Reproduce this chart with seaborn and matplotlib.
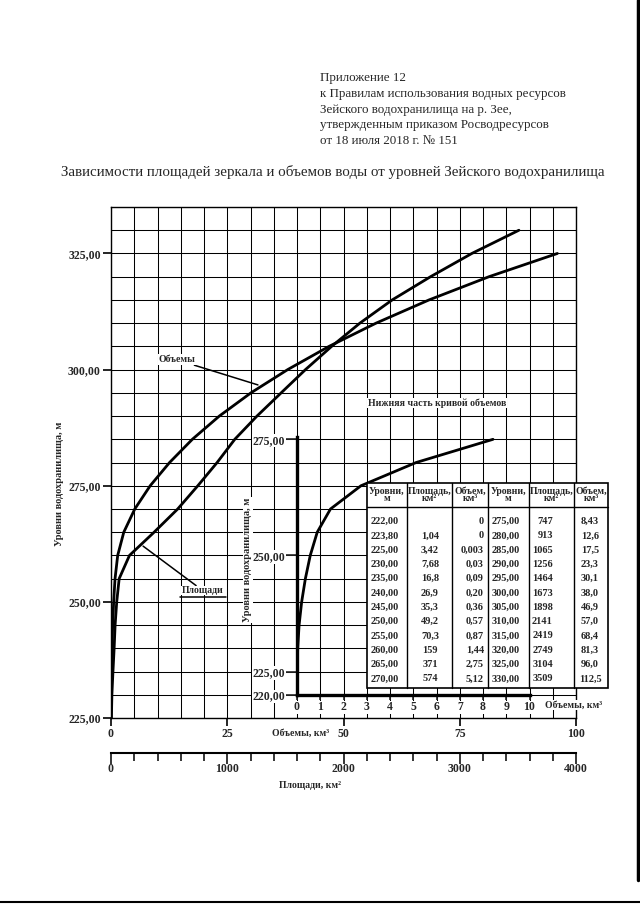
import numpy as np
import pandas as pd
import matplotlib
matplotlib.use('Agg')
import matplotlib.pyplot as plt
import seaborn as sns
from matplotlib.patches import Rectangle
from matplotlib.lines import Line2D

# таблица: уровни, площади зеркала, объемы
level_txt = ['222,00', '223,80', '225,00', '230,00', '235,00', '240,00', '245,00', '250,00',
             '255,00', '260,00', '265,00', '270,00', '275,00', '280,00', '285,00', '290,00',
             '295,00', '300,00', '305,00', '310,00', '315,00', '320,00', '325,00', '330,00']
area_txt = ['', '1,04', '3,42', '7,68', '16,8', '26,9', '35,3', '49,2', '70,3', '159', '371', '574',
            '747', '913', '1065', '1256', '1464', '1673', '1898', '2141', '2419', '2749', '3104', '3509']
vol_txt = ['0', '0', '0,003', '0,03', '0,09', '0,20', '0,36', '0,57', '0,87', '1,44', '2,75', '5,12',
           '8,43', '12,6', '17,5', '23,3', '30,1', '38,0', '46,9', '57,0', '68,4', '81,3', '96,0', '112,5']

header_txt = ['Приложение 12',
              'к Правилам использования водных ресурсов',
              'Зейского водохранилища на р. Зее,',
              'утвержденным приказом Росводресурсов',
              'от 18 июля 2018 г. № 151']
title_txt = 'Зависимости площадей зеркала и объемов воды от уровней Зейского водохранилища'
table_head = ['Уровни,\nм', 'Площадь,\nкм²', 'Объем,\nкм³']

main_yticks = [225, 250, 275, 300, 325]
main_xticks = [0, 25, 50, 75, 100]
inset_yticks = [220, 225, 250, 275]
inset_xticks = list(range(0, 11))
area_ticks = [0, 1000, 2000, 3000, 4000]


def num(s):
    return float(s.replace(',', '.')) if s else np.nan


df = pd.DataFrame({'level': [num(s) for s in level_txt],
                   'area': [num(s) for s in area_txt],
                   'vol': [num(s) for s in vol_txt]})
df['area_scaled'] = df['area'] / 40.0

sns.set_theme(style='white')
plt.rcParams['font.family'] = ['Liberation Serif', 'DejaVu Serif']
plt.rcParams['axes.edgecolor'] = 'black'

W, H = 640, 905
PT = 72 / 100  # пикселей -> пунктов
fig = plt.figure(figsize=(W / 100, H / 100), dpi=100)
fig.patch.set_facecolor('white')


def fx(x):
    return x / W


def fy(y):
    return 1 - y / H


def ftext(x, y, s, **kw):
    return fig.text(fx(x), fy(y), s, **kw)


# шапка
for i, line in enumerate(header_txt):
    ftext(320, 78 + i * 15.8, line, fontsize=9.35, ha='left', va='center')
ftext(333, 172, title_txt, fontsize=10.8, ha='center', va='center')

# основной график
ax = fig.add_axes([fx(111), fy(718), 465 / W, 511 / H])
ax.set_xlim(0, 100)
ax.set_ylim(225, 335)

vol_main = df[df['level'] <= 325]
area_main = df.dropna(subset=['area'])
sns.lineplot(data=vol_main, x='vol', y='level', sort=False, estimator=None,
             color='black', lw=2.0, ax=ax)
sns.lineplot(data=area_main, x='area_scaled', y='level', sort=False, estimator=None,
             color='black', lw=2.0, ax=ax)
ax.set_xlabel('')
ax.set_ylabel('')

ax.set_xticks(main_xticks)
ax.set_xticklabels([str(t) for t in main_xticks])
ax.set_xticks(np.arange(0, 101, 5), minor=True)
ax.set_yticks(main_yticks)
ax.set_yticklabels([f'{t},00' for t in main_yticks])
ax.set_yticks(np.arange(225, 336, 5), minor=True)
ax.grid(True, which='both', color='black', lw=0.75)
ax.tick_params(which='major', direction='out', length=8 * PT, width=1.2, color='black',
               labelsize=8.5, pad=1.5, bottom=True, left=True)
ax.tick_params(which='minor', length=0)
for lab in ax.get_xticklabels() + ax.get_yticklabels():
    lab.set_fontweight('bold')
for sp in ax.spines.values():
    sp.set_linewidth(1.0)

wbox = dict(facecolor='white', edgecolor='none', pad=0.6)
ax.annotate('Объемы', xy=(31.6, 296.7), xytext=(14.2, 302.1), fontsize=7, fontweight='bold',
            ha='center', va='center', bbox=wbox,
            arrowprops=dict(arrowstyle='-', color='black', lw=1.1, shrinkA=0, shrinkB=0))
ax.annotate('Площади', xy=(6.9, 262.0), xytext=(15.2, 251.5), fontsize=7, fontweight='bold',
            ha='left', va='bottom', bbox=dict(facecolor='white', edgecolor='none', pad=0.2),
            arrowprops=dict(arrowstyle='-', color='black', lw=1.1, shrinkA=0, shrinkB=0))
ax.plot([14.8, 24.7], [251.0, 251.0], color='black', lw=1.1, zorder=5)

ftext(60, 484, 'Уровни водохранилища, м', rotation=90, fontsize=7.5, fontweight='bold',
      ha='center', va='center')
ftext(301, 733, 'Объемы, км³', fontsize=7, fontweight='bold', ha='center', va='center')

# нижняя часть кривой объемов
ax2 = fig.add_axes([fx(297), fy(694.8), 232.5 / W, 257.8 / H])
ax2.patch.set_alpha(0)
ax2.set_xlim(0, 10)
ax2.set_ylim(220, 275.5)
inset = df[df['level'] <= 275]
sns.lineplot(data=inset, x='vol', y='level', sort=False, estimator=None,
             color='black', lw=2.0, ax=ax2)
ax2.set_xlabel('')
ax2.set_ylabel('')
ax2.set_xticks(inset_xticks)
ax2.set_xticklabels([str(t) for t in inset_xticks])
ax2.set_yticks(inset_yticks)
ax2.set_yticklabels([f'{t},00' for t in inset_yticks])
ax2.grid(False)
for s in ['top', 'right']:
    ax2.spines[s].set_visible(False)
for s in ['left', 'bottom']:
    ax2.spines[s].set_linewidth(2.4)
ax2.tick_params(axis='y', direction='out', length=11 * PT, width=1.2, labelsize=8.5, pad=0.5,
                left=True)
ax2.tick_params(axis='x', direction='out', length=5 * PT, width=1.2, labelsize=8.5, pad=1,
                bottom=True)
for lab in ax2.get_xticklabels() + ax2.get_yticklabels():
    lab.set_fontweight('bold')
    lab.set_bbox(dict(facecolor='white', edgecolor='none', pad=0.4))

ftext(248, 560, 'Уровни водохранилища, м', rotation=90, fontsize=7.5, fontweight='bold',
      ha='center', va='center', bbox=dict(facecolor='white', edgecolor='none', pad=0.3))
ftext(437, 403, 'Нижняя часть кривой объемов', fontsize=7, fontweight='bold',
      ha='center', va='center', bbox=dict(facecolor='white', edgecolor='none', pad=0.5))
ftext(574, 705, 'Объемы, км³', fontsize=7, fontweight='bold', ha='center', va='center',
      bbox=dict(facecolor='white', edgecolor='none', pad=0.3))

# шкала площадей
ax3 = fig.add_axes([fx(111), fy(753), 465 / W, 0.0001])
ax3.patch.set_alpha(0)
ax3.set_xlim(0, 4000)
ax3.set_yticks([])
for s in ['top', 'right', 'left']:
    ax3.spines[s].set_visible(False)
ax3.spines['bottom'].set_linewidth(1.5)
ax3.set_xticks(area_ticks)
ax3.set_xticklabels([str(t) for t in area_ticks])
ax3.set_xticks(np.arange(0, 4001, 200), minor=True)
ax3.tick_params(which='major', direction='out', length=11 * PT, width=1.3, labelsize=8.5, pad=-1,
                bottom=True)
ax3.tick_params(which='minor', direction='out', length=8 * PT, width=1.3, bottom=True)
for lab in ax3.get_xticklabels():
    lab.set_fontweight('bold')
ftext(310, 785, 'Площади, км²', fontsize=7, fontweight='bold', ha='center', va='center')

# таблица
tx0, tx1, ty0, ty1, th = 367, 608, 483, 688, 507
cols = [367, 407, 452, 488, 529, 574, 608]
fig.add_artist(Rectangle((fx(tx0), fy(ty1)), (tx1 - tx0) / W, (ty1 - ty0) / H,
                         transform=fig.transFigure, facecolor='white', edgecolor='black',
                         lw=1.2, zorder=5))
fig.add_artist(Line2D([fx(tx0), fx(tx1)], [fy(th), fy(th)], transform=fig.transFigure,
                      color='black', lw=1.0, zorder=6))
for c in cols[1:-1]:
    fig.add_artist(Line2D([fx(c), fx(c)], [fy(ty0), fy(ty1)], transform=fig.transFigure,
                          color='black', lw=1.0, zorder=6))
for k in range(6):
    ftext((cols[k] + cols[k + 1]) / 2, 495, table_head[k % 3], fontsize=7, fontweight='bold',
          ha='center', va='center', linespacing=0.85, zorder=7)
half = 12
for i in range(half):
    y = 521.5 + i * 14.3
    for j, (lv, ar, vo) in enumerate([(level_txt[i], area_txt[i], vol_txt[i]),
                                      (level_txt[i + half], area_txt[i + half], vol_txt[i + half])]):
        b = 3 * j
        ftext(cols[b] + 4, y, lv, fontsize=7.5, fontweight='bold', ha='left', va='center', zorder=7)
        if j == 0:
            ftext(430, y, ar, fontsize=7.5, fontweight='bold', ha='center', va='center', zorder=7)
            ftext(484, y, vo, fontsize=7.5, fontweight='bold', ha='right', va='center', zorder=7)
        else:
            ftext(553, y, ar, fontsize=7.5, fontweight='bold', ha='right', va='center', zorder=7)
            ftext(590, y, vo, fontsize=7.5, fontweight='bold', ha='center', va='center', zorder=7)

# края скана
fig.add_artist(Line2D([fx(638), fx(638)], [fy(0), fy(880)], transform=fig.transFigure,
                      color='black', lw=2.5))
fig.add_artist(Line2D([fx(0), fx(640)], [fy(902), fy(902)], transform=fig.transFigure,
                      color='black', lw=1.5))

fig.savefig('out.png', dpi=100, facecolor='white')
